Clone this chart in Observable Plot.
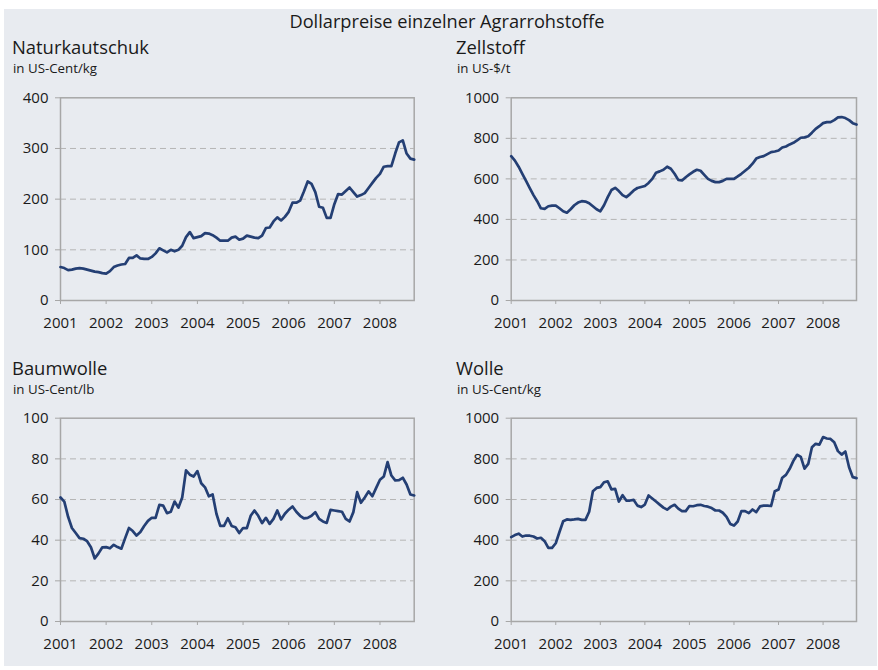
<!DOCTYPE html>
<html>
<head>
<meta charset="utf-8">
<script src="https://cdn.jsdelivr.net/npm/d3@7"></script>
<script src="https://cdn.jsdelivr.net/npm/@observablehq/plot@0.6"></script>
<style>
  html, body { margin: 0; padding: 0; background: #ffffff; }
  #page { position: relative; width: 878px; height: 670px; overflow: hidden; font-family: "Open Sans", "Noto Sans", sans-serif; color: #1a1a1a; }
  #bg { position: absolute; left: 4px; top: 9px; width: 873px; height: 657px; background: #e8ebf0; }
  .t { position: absolute; white-space: nowrap; line-height: 1; }
  .main { font-size: 18.2px; }
  .ptitle { font-size: 18.4px; }
  .unit { font-size: 13.3px; }
  .chart { position: absolute; }
</style>
</head>
<body>
<div id="page">
  <div id="bg"></div>
</div>
<script>
const years = ["2001", "2002", "2003", "2004", "2005", "2006", "2007", "2008"];

// Monthly values, Jan 2001 – Oct 2008
const naturkautschuk = [
  66, 64, 60, 61, 63, 64, 63, 61, 59, 57, 56, 54,
  53, 58, 66, 69, 71, 72, 84, 84, 89, 83, 82, 82,
  86, 93, 103, 99, 95, 100, 97, 100, 108, 125, 135, 123,
  125, 127, 133, 132, 129, 124, 118, 118, 118, 124, 126, 120,
  122, 128, 126, 124, 123, 128, 143, 144, 156, 164, 158, 165,
  175, 193, 193, 197, 215, 235, 230, 214, 185, 183, 163, 163,
  190, 210, 209, 216, 223, 214, 205, 208, 212, 222, 232, 242,
  250, 264, 265, 265, 290, 312, 316, 290, 280, 278
];
const zellstoff = [
  712, 690, 660, 625, 590, 555, 520, 490, 455, 452, 465, 468,
  468, 455, 440, 433, 450, 470, 483, 490, 488, 480, 465, 450,
  440, 470, 510, 545, 556, 540, 520, 510, 525, 543, 555, 560,
  565, 580, 600, 630, 637, 645, 660, 650, 625, 595, 592, 608,
  622, 635, 645, 640, 620, 600, 590, 584, 584, 590, 600, 600,
  600, 612, 625, 640, 655, 675, 700, 708, 712, 722, 732, 735,
  740, 755, 760, 770, 778, 790, 803, 805, 810, 828, 847, 860,
  875, 880, 880, 890, 903, 905, 900, 890, 875, 868
];
const baumwolle = [
  61, 59, 51.5, 46, 43.5, 41, 40.7, 39.5, 36.5, 31, 33.5, 36.5,
  36.6, 36, 37.7, 36.6, 35.8, 41, 46, 44.5, 42.3, 44, 47, 49.5,
  51, 51, 57.4, 57, 53.3, 54, 59, 56, 61, 74.3, 72.2, 71.3,
  74, 68, 66, 61.6, 62.5, 53, 47, 47, 50.8, 47, 46.4, 43.5,
  46, 45.9, 52, 54.6, 52, 48.4, 51, 48, 50.5, 54.6, 50.2, 53,
  55, 56.6, 54, 52, 50.7, 51, 52, 53.8, 50.5, 49.2, 48.5, 54.9,
  54.6, 54.3, 54, 50.5, 49.2, 53.8, 63.6, 58.4, 61, 64, 61.6, 65.7,
  69.7, 71.3, 78.4, 71.8, 69.4, 69.5, 70.7, 67.4, 62.5, 62
];
const wolle = [
  415, 425, 432, 418, 423, 422, 418, 408, 412, 395, 362, 362,
  385, 440, 493, 502, 500, 502, 505, 500, 500, 540, 641, 657,
  661, 685, 689, 650, 652, 590, 621, 595, 595, 598, 570, 563,
  575, 620, 605, 590, 575, 560, 550, 565, 574, 555, 543, 543,
  568, 567, 572, 574, 568, 565, 558, 546, 546, 535, 515, 480,
  472, 492, 543, 543, 533, 551, 538, 566, 570, 570, 568, 641,
  649, 707, 721, 751, 790, 820, 810, 752, 775, 857, 874, 870,
  907, 900, 898, 882, 838, 821, 836, 759, 710, 705
];

const mainTitle = "Dollarpreise einzelner Agrarrohstoffe";
const panels = [
  {title: "Naturkautschuk", unit: "in US-Cent/kg", values: naturkautschuk, yMax: 400, yTicks: [0, 100, 200, 300, 400],
   left: 0, top: 80, width: 440, height: 250, ml: 60, mr: 26.3, mt: 17.3, mb: 30, tx: 12, ty: 37.5},
  {title: "Zellstoff", unit: "in US-$/t", values: zellstoff, yMax: 1000, yTicks: [0, 200, 400, 600, 800, 1000],
   left: 440, top: 80, width: 438, height: 250, ml: 70.7, mr: 22, mt: 17.3, mb: 30, tx: 456, ty: 37.5},
  {title: "Baumwolle", unit: "in US-Cent/lb", values: baumwolle, yMax: 100, yTicks: [0, 20, 40, 60, 80, 100],
   left: 0, top: 400, width: 440, height: 250, ml: 60, mr: 26.3, mt: 17.7, mb: 29, tx: 12, ty: 358.5},
  {title: "Wolle", unit: "in US-Cent/kg", values: wolle, yMax: 1000, yTicks: [0, 200, 400, 600, 800, 1000],
   left: 440, top: 400, width: 438, height: 250, ml: 70.7, mr: 22, mt: 17.7, mb: 29, tx: 456, ty: 358.5}
];

const page = document.getElementById("page");
function addText(cls, text, x, y, center) {
  const d = document.createElement("div");
  d.className = "t " + cls;
  d.textContent = text;
  d.style.left = x + "px";
  d.style.top = y + "px";
  if (center) d.style.transform = "translateX(-50%)";
  page.appendChild(d);
}
addText("main", mainTitle, 447, 12, true);

const frameColor = "#a7a7a7";
const gridColor = "#b5b5b5";
const lineColor = "#243f74";

for (const p of panels) {
  addText("ptitle", p.title, p.tx, p.ty, false);
  addText("unit", p.unit, p.tx + 1, p.ty + 24.5, false);
  const n = p.values.length;
  const plot = Plot.plot({
    width: p.width, height: p.height,
    marginLeft: p.ml, marginRight: p.mr, marginTop: p.mt, marginBottom: p.mb,
    style: {background: "transparent", fontFamily: "'Open Sans', 'Noto Sans', sans-serif", fontSize: "15px", color: "#1a1a1a", overflow: "visible"},
    x: {domain: [0, n - 1], axis: null},
    y: {domain: [0, p.yMax], axis: null},
    marks: [
      Plot.ruleY(p.yTicks.filter(v => v > 0 && v < p.yMax), {stroke: gridColor, strokeWidth: 1, strokeDasharray: "6,4"}),
      Plot.axisY(p.yTicks, {anchor: "left", tickSize: 5, tickPadding: 7, stroke: frameColor, fill: "#1a1a1a", label: null, fontSize: 15, tickFormat: d => String(d)}),
      Plot.axisX(years.map((y, i) => i * 12), {anchor: "bottom", tickSize: 4, tickPadding: 13, stroke: frameColor, fill: "#1a1a1a", label: null, fontSize: 15, tickFormat: v => years[v / 12]}),
      Plot.frame({stroke: frameColor, strokeWidth: 1.5}),
      Plot.lineY(p.values, {x: (d, i) => i, y: d => d, stroke: lineColor, strokeWidth: 2.7, strokeLinejoin: "round"})
    ]
  });
  plot.classList.add("chart");
  plot.style.left = p.left + "px";
  plot.style.top = p.top + "px";
  page.appendChild(plot);
}
</script>
</body>
</html>
